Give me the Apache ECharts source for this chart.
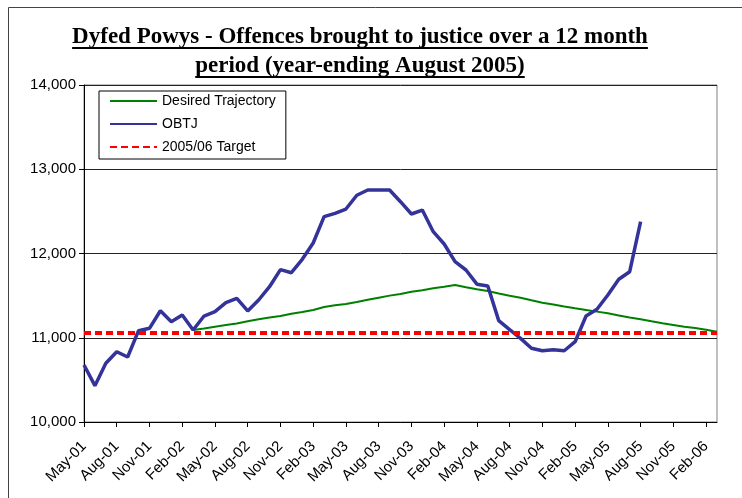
<!DOCTYPE html>
<html>
<head>
<meta charset="utf-8">
<script src="https://cdn.jsdelivr.net/npm/echarts@6/dist/echarts.min.js"></script>
<style>
html,body{margin:0;padding:0;background:#fff;}
#chart{width:742px;height:498px;}
</style>
</head>
<body>
<div id="chart"></div>
<script>
var categories = [
  'May-01','Jun-01','Jul-01','Aug-01','Sep-01','Oct-01','Nov-01','Dec-01',
  'Jan-02','Feb-02','Mar-02','Apr-02','May-02','Jun-02','Jul-02','Aug-02','Sep-02','Oct-02','Nov-02','Dec-02',
  'Jan-03','Feb-03','Mar-03','Apr-03','May-03','Jun-03','Jul-03','Aug-03','Sep-03','Oct-03','Nov-03','Dec-03',
  'Jan-04','Feb-04','Mar-04','Apr-04','May-04','Jun-04','Jul-04','Aug-04','Sep-04','Oct-04','Nov-04','Dec-04',
  'Jan-05','Feb-05','Mar-05','Apr-05','May-05','Jun-05','Jul-05','Aug-05','Sep-05','Oct-05','Nov-05','Dec-05',
  'Jan-06','Feb-06','Mar-06'
];

var obtj = [
  10676, 10431, 10697, 10834, 10771, 11084, 11112, 11321,
  11191, 11270, 11092, 11258, 11309, 11416, 11468, 11318, 11448, 11606, 11808, 11772,
  11931, 12125, 12437, 12477, 12528, 12691, 12754, 12754, 12754, 12615, 12469, 12516,
  12259, 12113, 11903, 11804, 11636, 11614, 11203, 11096, 10993, 10875, 10846, 10858,
  10846, 10953, 11258, 11338, 11507, 11694, 11784, 12377
];

var desiredTrajectory = [
  null, null, null, null, null, null, null, null,
  null, null, 11092, 11110, 11130, 11150, 11170, 11195, 11220, 11240, 11258, 11285,
  11305, 11329, 11365, 11385, 11401, 11425, 11450, 11475, 11500, 11520, 11547, 11565,
  11587, 11605, 11626, 11600, 11575, 11555, 11525, 11499, 11475, 11445, 11416, 11395,
  11370, 11349, 11330, 11310, 11290, 11265, 11240, 11219, 11195, 11172, 11151, 11130,
  11115, 11095, 11072
];

var target = 11060;

var yTicks = [10000, 11000, 12000, 13000, 14000];

var titleLines = [
  'Dyfed Powys - Offences brought to justice over a 12 month',
  'period (year-ending August 2005)'
];

var chart = echarts.init(document.getElementById('chart'), null, {renderer: 'canvas'});

var titleFont = 'bold 23px "Liberation Serif", "Times New Roman", serif';
var ctx = document.createElement('canvas').getContext('2d');
ctx.font = titleFont;
var titleCenterX = 360;
var titleCenters = [37, 66];
var graphics = [
  {
    type: 'rect', silent: true, z: 0,
    shape: {x: 8.5, y: 7.5, width: 900, height: 700},
    style: {fill: null, stroke: '#444', lineWidth: 1}
  }
];
titleLines.forEach(function (t, i) {
  var w = ctx.measureText(t).width;
  graphics.push({
    type: 'text', silent: true,
    style: {
      text: t, x: titleCenterX, y: titleCenters[i],
      align: 'center', verticalAlign: 'middle',
      font: titleFont, fill: '#000'
    }
  });
  graphics.push({
    type: 'line', silent: true,
    shape: {x1: titleCenterX - w / 2, y1: titleCenters[i] + 11, x2: titleCenterX + w / 2, y2: titleCenters[i] + 11},
    style: {stroke: '#000', lineWidth: 2}
  });
});

var option = {
  animation: false,
  backgroundColor: '#fff',
  textStyle: {fontFamily: '"Liberation Sans", Arial, sans-serif'},
  graphic: graphics,
  grid: {
    left: 84, right: 25, top: 85, bottom: 76,
    show: true, borderColor: '#808080', borderWidth: 1
  },
  legend: {
    orient: 'vertical',
    left: 99, top: 91,
    padding: [3, 10, 5, 10],
    itemGap: 9,
    itemWidth: 47, itemHeight: 14,
    backgroundColor: '#fff',
    borderColor: '#000', borderWidth: 1,
    itemStyle: {opacity: 0},
    textStyle: {fontSize: 14, color: '#000', fontFamily: '"Liberation Sans", Arial, sans-serif'},
    data: ['Desired Trajectory', 'OBTJ', '2005/06 Target']
  },
  xAxis: {
    type: 'category',
    data: categories,
    boundaryGap: false,
    axisLine: {lineStyle: {color: '#000', width: 1}},
    axisTick: {show: true, interval: 2, length: 5, lineStyle: {color: '#000'}},
    axisLabel: {
      interval: 2, rotate: 45, fontSize: 15, color: '#000', margin: 22,
      fontFamily: '"Liberation Sans", Arial, sans-serif'
    },
    splitLine: {show: false}
  },
  yAxis: {
    type: 'value',
    min: yTicks[0], max: yTicks[yTicks.length - 1], interval: 1000,
    axisLine: {show: true, lineStyle: {color: '#000', width: 1}},
    axisTick: {show: true, length: 5, lineStyle: {color: '#000'}},
    axisLabel: {
      fontSize: 15, color: '#000', margin: 8,
      fontFamily: '"Liberation Sans", Arial, sans-serif',
      formatter: function (v) { return v.toLocaleString('en-US'); }
    },
    splitLine: {show: true, lineStyle: {color: '#222', width: 1}}
  },
  series: [
    {
      name: 'Desired Trajectory', type: 'line', data: desiredTrajectory,
      symbol: 'none', connectNulls: false, z: 3,
      itemStyle: {color: '#008000'},
      lineStyle: {color: '#008000', width: 2}
    },
    {
      name: 'OBTJ', type: 'line', data: obtj,
      symbol: 'none', z: 4,
      itemStyle: {color: '#333399'},
      lineStyle: {color: '#333399', width: 3.5}
    },
    {
      name: '2005/06 Target', type: 'line', data: [],
      symbol: 'none', z: 5,
      itemStyle: {color: '#ff0000'},
      lineStyle: {color: '#ff0000', width: 4, type: [7, 4]},
      markLine: {
        silent: true, symbol: 'none',
        label: {show: false},
        lineStyle: {color: '#ff0000', width: 4, type: [7, 4]},
        data: [{yAxis: target}]
      }
    }
  ]
};
chart.setOption(option);
</script>
</body>
</html>
